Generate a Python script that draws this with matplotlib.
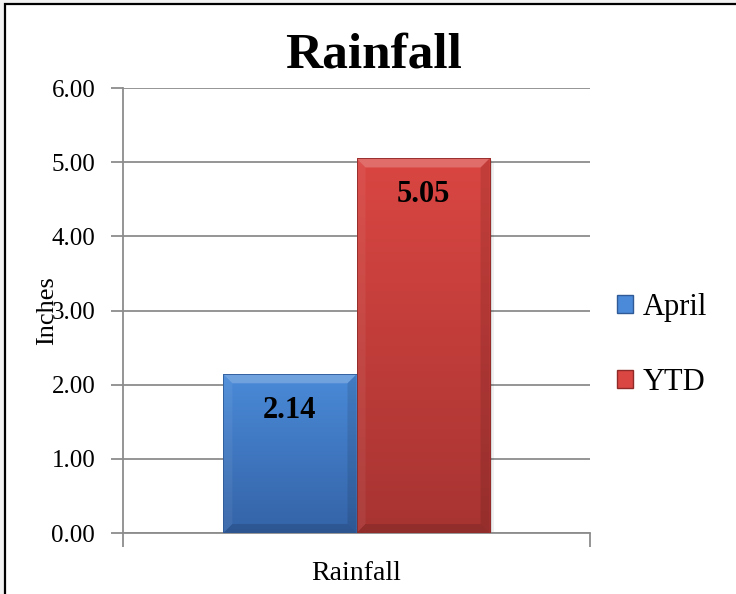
import numpy as np
import matplotlib
matplotlib.use('Agg')
import matplotlib.pyplot as plt
from matplotlib.colors import LinearSegmentedColormap
from matplotlib.patches import Rectangle, Polygon, Patch

plt.rcParams['font.family'] = ['Liberation Serif', 'DejaVu Serif']

# data
category = ['Rainfall']
series = ['April', 'YTD']
values = [2.14, 5.05]
yticks = [0, 1, 2, 3, 4, 5, 6]

# colours: top / bottom of each bar's gradient
tops = ['#4a8ad8', '#da4642']
bottoms = ['#3463a7', '#a73432']
edges = ['#2f5a96', '#8e2a28']

W, H = 736, 594
fig = plt.figure(figsize=(W / 100, H / 100), dpi=100)
fig.patch.set_facecolor('#f2f2f2')
# white chart area with a black frame (right/bottom edges fall outside)
frame = Rectangle((5 / W, -0.02), 1.0, 1 - 4 / H + 0.02,
                  transform=fig.transFigure, facecolor='white',
                  edgecolor='black', lw=1.6, zorder=-10)
fig.patches.append(frame)

ax = fig.add_axes([123 / W, 61 / H, 467 / W, 445 / H])
ax.patch.set_alpha(0)

width = 0.285
xs = [-width / 2, width / 2]
bars = ax.bar(xs, values, width, color=tops, edgecolor=edges, lw=0.6, zorder=3)

# pixel sizes in data units for the bevel / shadow
px = 1.0 / 467
py = 6.0 / 445

for b, c0, c1 in zip(bars, tops, bottoms):
    x0, y0 = b.get_x(), b.get_y()
    x1, y1 = x0 + b.get_width(), y0 + b.get_height()
    # soft shadow
    for k, a in [(2, 0.10), (4, 0.06)]:
        ax.add_patch(Rectangle((x0 + k * px, y0 - k * py), x1 - x0, y1 - y0,
                               color='black', alpha=a, lw=0, zorder=2))
    cmap = LinearSegmentedColormap.from_list('g', [c1, c0])
    grad = np.linspace(0, 1, 256).reshape(-1, 1)
    im = ax.imshow(grad, cmap=cmap, origin='lower', aspect='auto',
                   extent=(x0, x1, y0, y1), zorder=3.1)
    im.set_clip_path(b)
    bx, by = 9 * px, 9 * py
    # bevel
    ax.add_patch(Polygon([(x0, y1), (x1, y1), (x1 - bx, y1 - by), (x0 + bx, y1 - by)],
                         closed=True, color='white', alpha=0.22, lw=0, zorder=3.2))
    ax.add_patch(Polygon([(x0, y0), (x0, y1), (x0 + bx, y1 - by), (x0 + bx, y0 + by)],
                         closed=True, color='white', alpha=0.06, lw=0, zorder=3.2))
    ax.add_patch(Polygon([(x1, y0), (x1, y1), (x1 - bx, y1 - by), (x1 - bx, y0 + by)],
                         closed=True, color='black', alpha=0.10, lw=0, zorder=3.2))
    ax.add_patch(Polygon([(x0, y0), (x1, y0), (x1 - bx, y0 + by), (x0 + bx, y0 + by)],
                         closed=True, color='black', alpha=0.13, lw=0, zorder=3.2))
    b.set_facecolor('none')
    b.set_zorder(3.3)

for x, v in zip(xs, values):
    ax.annotate(f'{v:.2f}', (x, v), xytext=(0, -26), textcoords='offset points',
                ha='center', va='center', fontsize=22, fontweight='bold', zorder=5)

ax.set_xlim(-0.5, 0.5)
ax.set_ylim(0, 6)
ax.set_yticks(yticks)
ax.set_yticklabels([f'{t:.2f}' for t in yticks])
ax.set_xticks([0])
ax.set_xticklabels(category)
ax.set_xticks([-0.5, 0.5], minor=True)

grey = '#8c8c8c'
ax.yaxis.grid(True, color=grey, lw=1.3)
ax.set_axisbelow(True)
for s in ['top', 'right']:
    ax.spines[s].set_visible(False)
for s in ['left', 'bottom']:
    ax.spines[s].set_color(grey)
    ax.spines[s].set_linewidth(1.3)

ax.tick_params(axis='y', direction='out', length=9, width=1.3, color=grey,
               labelsize=18, pad=11)
ax.tick_params(axis='x', which='major', length=0, labelsize=20, pad=20)
ax.tick_params(axis='x', which='minor', direction='out', length=10, width=1.3,
               color=grey)

ax.set_ylabel('Inches', fontsize=19)
ax.yaxis.set_label_coords(-0.14, 0.5)

ax.set_title('Rainfall', fontsize=37, fontweight='bold', pad=15,
             x=(374 - 123) / 467)

handles = [Patch(facecolor=c, edgecolor=e) for c, e in zip(tops, edges)]
fig.legend(handles, series, loc='center left', bbox_to_anchor=(589 / W, 1 - 345 / H),
           frameon=False, fontsize=22, handlelength=0.55, handleheight=0.55,
           handletextpad=0.3, labelspacing=1.5)

fig.savefig('out.png', dpi=100, facecolor=fig.get_facecolor())
